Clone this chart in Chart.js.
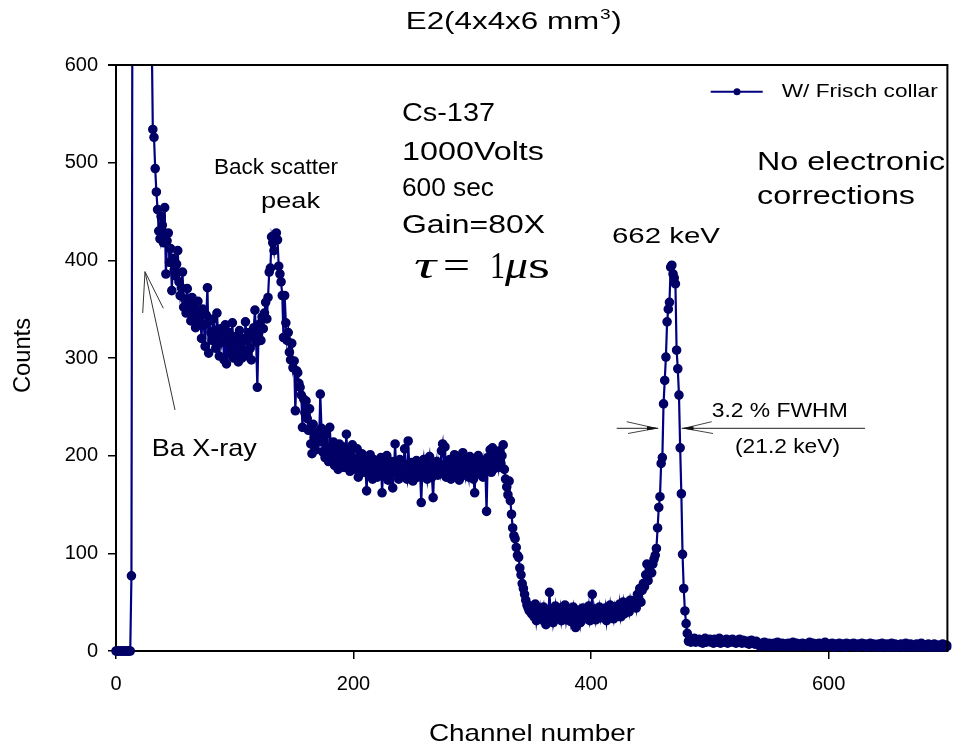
<!DOCTYPE html>
<html><head><meta charset="utf-8">
<script src="https://cdn.jsdelivr.net/npm/chart.js@4"></script>
<style>html,body{margin:0;padding:0;background:#fff}#wrap{width:953px;height:749px;position:relative}</style>
</head><body><div id="wrap"><canvas id="c" width="953" height="749"></canvas></div>
<script>
// ---- data ----
const seriesLabel = 'W/ Frisch collar';
const startChannel = 0;           // counts[i] is channel startChannel + i
const counts = [
0,0,0,0,0,0,0,0,0,0,
0,0,0,77,820,1450,2300,3100,3600,3800,
3500,3000,2450,1950,1550,1250,1020,870,760,690,
640,534,526,494,470,452,430,422,445,436,
418,454,386,420,428,398,412,369,402,390,
384,396,410,378,364,372,388,352,360,346,
371,348,356,338,362,340,352,331,346,358,
336,342,320,350,334,312,344,372,305,338,
326,318,340,328,310,346,322,302,330,316,
324,298,334,294,318,326,304,312,336,300,
316,322,306,296,328,314,300,320,308,337,
318,302,326,310,298,322,331,349,316,270,
324,335,318,342,330,346,357,340,362,388,
392,424,418,410,426,428,421,394,386,378,
364,321,364,336,318,326,306,298,315,290,
297,246,287,285,274,270,262,229,258,244,
256,238,226,248,212,202,232,218,206,219,
224,214,263,228,204,216,198,222,208,194,
229,204,196,214,190,208,199,186,212,203,
194,209,188,198,222,192,205,184,200,211,
190,196,186,207,178,199,190,202,183,195,
188,164,192,180,201,187,176,196,184,190,
178,193,182,198,162,186,179,191,200,175,
188,181,194,167,185,212,183,190,176,196,
184,179,192,207,182,176,215,186,180,193,
174,188,182,195,178,190,184,152,187,196,
180,185,176,191,199,182,178,157,189,186,
194,180,192,184,205,212,188,209,178,190,
183,196,176,189,184,201,179,192,186,175,
197,183,203,188,180,195,186,178,199,184,
190,176,162,193,187,200,181,196,189,178,
194,185,143,198,190,206,183,208,192,187,
200,196,188,205,192,200,211,186,176,168,
160,174,154,140,126,118,115,106,98,96,
85,78,69,64,58,52,47,44,41,46,
38,42,35,48,31,40,36,44,33,39,
45,30,27,41,37,60,34,42,29,38,
46,33,40,36,44,31,39,35,47,32,
41,37,43,30,38,45,34,24,40,36,
42,29,39,44,35,41,33,38,46,31,
37,58,36,43,32,40,38,45,34,41,
39,35,44,31,42,38,47,36,40,33,
45,39,43,37,48,35,42,50,38,44,
41,47,40,52,45,49,48,52,44,58,
55,64,50,62,69,66,78,89,72,84,
88,80,89,94,98,105,126,147,158,192,
198,253,277,301,337,350,357,393,395,386,
382,376,308,289,262,208,161,99,64,41,
28,18,10,11,9,12,10,13,9,11,
10,12,9,11,8,10,13,9,11,10,
12,9,11,8,12,10,9,11,13,8,
10,11,9,10,12,8,11,9,10,12,
9,10,8,11,9,12,10,8,11,9,
10,8,10,7,9,11,8,9,7,10,
8,7,5,6,8,6,9,5,7,6,
8,5,7,6,8,5,6,9,6,7,
5,8,6,5,7,6,8,5,6,7,
9,5,6,8,5,7,6,5,8,6,
7,6,5,7,9,5,6,8,5,6,
7,5,8,6,5,7,6,9,5,6,
7,6,5,8,6,4,7,6,5,8,
6,5,7,6,4,8,5,6,7,5,
6,8,5,6,4,7,6,5,8,6,
5,7,4,6,5,8,6,5,7,4,
6,5,7,6,4,8,5,6,5,7,
4,6,5,8,4,6,7,5,4,6,
5,7,5,4,6,8,5,6,4,7,
5,6,4,5,7,5,6,4,8,5,
6,4,6,5,7,4,5,6,4,7,
5,6,4,5,6,4,7,5,4,6,
5
];
const xTicks = [0, 200, 400, 600];
const yTicks = [0, 100, 200, 300, 400, 500, 600];
const xRange = [0, 700];
const yRange = [0, 600];
const titleMain = 'E2(4x4x6 mm', titleSup = '3', titleEnd = ')';
const xTitle = 'Channel number', yTitle = 'Counts';
const infoLines = ['Cs-137', '1000Volts', '600 sec', 'Gain=80X'];

// ---- drawing ----
const SANS = "'Liberation Sans', Arial, sans-serif";
const SERIF = "'Liberation Serif', 'Times New Roman', serif";
const NAVY = '#000080', NAVY_PT = '#000066';

function fitText(ctx, s, left, cy, size, width, opts) {
  opts = opts || {};
  ctx.save();
  ctx.font = (opts.style ? opts.style + ' ' : '') + size + 'px ' + (opts.family || SANS);
  ctx.fillStyle = '#000';
  ctx.textBaseline = 'middle';
  ctx.textAlign = 'left';
  const w = ctx.measureText(s).width;
  const sx = width ? width / w : 1;
  ctx.translate(left, cy);
  if (opts.rotate) ctx.rotate(opts.rotate);
  ctx.scale(sx, 1);
  ctx.fillText(s, 0, 0);
  ctx.restore();
}
function line(ctx, pts, w, col) {
  ctx.save(); ctx.strokeStyle = col || '#222'; ctx.lineWidth = w || 1;
  ctx.beginPath(); ctx.moveTo(pts[0][0], pts[0][1]);
  for (let i = 1; i < pts.length; i++) ctx.lineTo(pts[i][0], pts[i][1]);
  ctx.stroke(); ctx.restore();
}
function tri(ctx, tip, a, b) {
  ctx.save(); ctx.fillStyle = '#111';
  ctx.beginPath(); ctx.moveTo(tip[0], tip[1]); ctx.lineTo(a[0], a[1]); ctx.lineTo(b[0], b[1]); ctx.closePath(); ctx.fill(); ctx.restore();
}

const annot = {
  id: 'annot',
  afterDraw(chart) {
    const ctx = chart.ctx, a = chart.chartArea;
    // frame top/right
    line(ctx, [[a.left - 8, a.top], [a.right, a.top], [a.right, a.bottom]], 2, '#000');

    // title with superscript
    ctx.save();
    ctx.fillStyle = '#000'; ctx.textBaseline = 'middle';
    ctx.font = '23px ' + SANS; const w1 = ctx.measureText(titleMain).width, w3 = ctx.measureText(titleEnd).width;
    ctx.font = '14px ' + SANS; const w2 = ctx.measureText(titleSup).width;
    const sx = 216 / (w1 + w2 + w3 + 1);
    ctx.translate(405.7, 23); ctx.scale(sx, 1);
    ctx.font = '23px ' + SANS; ctx.fillText(titleMain, 0, 0);
    ctx.font = '14px ' + SANS; ctx.fillText(titleSup, w1 + 0.5, -8);
    ctx.font = '23px ' + SANS; ctx.fillText(titleEnd, w1 + w2 + 1, 0);
    ctx.restore();

    // axis titles
    fitText(ctx, yTitle, 24, 393, 23, 75, {rotate: -Math.PI / 2});
    fitText(ctx, xTitle, 429, 734, 24, 206);

    // legend
    const ds = chart.data.datasets[0];
    line(ctx, [[710.7, 91.7], [762.7, 91.7]], 2, ds.borderColor);
    ctx.save(); ctx.fillStyle = ds.pointBackgroundColor; ctx.beginPath(); ctx.arc(737, 91.7, 3.5, 0, Math.PI * 2); ctx.fill(); ctx.restore();
    fitText(ctx, ds.label, 781.7, 92, 18, 156);

    // info text block
    const ys = [114, 152.5, 189, 226], ws = [93, 142, 92, 143];
    infoLines.forEach((s, i) => fitText(ctx, s, 402, ys[i], 26, ws[i]));
    // tau = 1 mu s
    fitText(ctx, 'τ', 414, 268, 38, 22, {style: 'italic', family: SERIF});
    fitText(ctx, '=', 443, 268, 38, 27, {family: SERIF});
    fitText(ctx, '1', 490, 268, 38, 15, {family: SERIF});
    fitText(ctx, 'μ', 505, 268, 38, 23, {style: 'italic', family: SERIF});
    fitText(ctx, 's', 528, 268, 38, 22, {family: SERIF});

    fitText(ctx, 'Back scatter', 214, 168, 22, 124);
    fitText(ctx, 'peak', 261, 202, 22, 59);
    fitText(ctx, '662 keV', 612, 237, 22, 108);
    fitText(ctx, 'No electronic', 757, 163, 26, 188);
    fitText(ctx, 'corrections', 757, 197, 26, 158);
    fitText(ctx, 'Ba X-ray', 151.7, 449, 24, 105);
    fitText(ctx, '3.2 % FWHM', 711.7, 411, 21, 136);
    fitText(ctx, '(21.2 keV)', 735, 447, 21, 105);

    // Ba X-ray arrow
    line(ctx, [[175, 410], [145, 271.7]], 1, '#333');
    line(ctx, [[142.7, 313], [145, 271.7], [163.3, 308.3]], 1, '#333');
    // FWHM arrows
    line(ctx, [[616.7, 428.3], [658, 428.3]], 1, '#222');
    line(ctx, [[626.7, 421.7], [656, 428.3], [628, 433.5]], 1, '#444');
    tri(ctx, [659, 428.3], [647, 426.3], [647, 430.3]);
    line(ctx, [[681.7, 428.3], [865, 428.3]], 1, '#222');
    line(ctx, [[711.7, 421.7], [684, 428.3], [713, 433.5]], 1, '#444');
    tri(ctx, [681.5, 428.3], [693.5, 426.3], [693.5, 430.3]);
  }
};

Chart.defaults.font.family = SANS;
Chart.defaults.color = '#000';

new Chart(document.getElementById('c'), {
  type: 'line',
  data: {
    datasets: [{
      label: seriesLabel,
      data: counts.map((v, i) => ({x: startChannel + i, y: v})),
      borderColor: NAVY,
      borderWidth: 2.2,
      pointRadius: 4,
      pointBackgroundColor: NAVY_PT,
      pointBorderColor: NAVY_PT,
      pointBorderWidth: 1.6,
      tension: 0,
      clip: {left: 8, right: 4, top: 0, bottom: 8}
    }]
  },
  options: {
    responsive: false,
    animation: false,
    devicePixelRatio: 1,
    layout: {padding: {top: 65, right: 4, left: 0, bottom: 0}},
    plugins: {legend: {display: false}, tooltip: {enabled: false}, title: {display: false}},
    scales: {
      x: {
        type: 'linear', min: xRange[0], max: xRange[1],
        afterBuildTicks: s => { s.ticks = xTicks.map(v => ({value: v})); },
        afterFit: s => { s.height = 98; },
        ticks: {font: {size: 20}, color: '#000', padding: 13, maxRotation: 0},
        grid: {drawOnChartArea: false, drawTicks: true, tickLength: 8, color: '#000', lineWidth: 1.5},
        border: {display: true, color: '#000', width: 2}
      },
      y: {
        min: yRange[0], max: yRange[1],
        afterBuildTicks: s => { s.ticks = yTicks.map(v => ({value: v})); },
        afterFit: s => { s.width = 116; },
        ticks: {font: {size: 20}, color: '#000', padding: 10},
        grid: {drawOnChartArea: false, drawTicks: true, tickLength: 8, color: '#000', lineWidth: 1.5},
        border: {display: true, color: '#000', width: 2}
      }
    }
  },
  plugins: [annot]
});
</script>
</body></html>
